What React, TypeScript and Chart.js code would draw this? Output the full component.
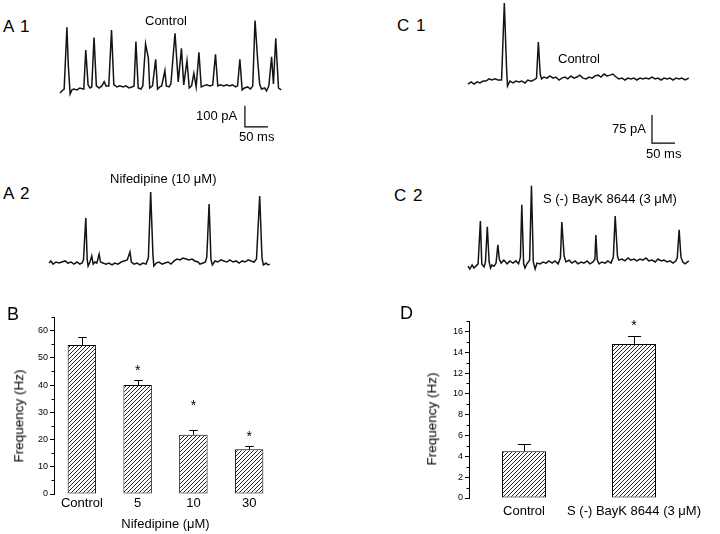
import React, { useEffect, useRef } from 'react';
import { Chart, registerables } from 'chart.js';

Chart.register(...registerables);

const FONT = "'Liberation Sans', Arial, Helvetica, sans-serif";

// ---------------- Data ----------------
// Panel B: frequency under nifedipine
const B_CATEGORIES = ['Control', '5', '10', '30'];
const B_FREQ_HZ = [54.7, 40.0, 21.8, 16.4];
const B_SEM_HZ = [3.0, 1.9, 1.7, 1.4];
const B_STAR_AT = [null, 46.7, 33.9, 22.3];

// Panel D: frequency under S(-) BayK 8644
const D_CATEGORIES = ['Control', 'S (-) BayK 8644 (3 μM)'];
const D_FREQ_HZ = [4.5, 14.8];
const D_SEM_HZ = [0.65, 0.75];
const D_STAR_AT = [null, 16.9];

// Scale bars
const SCALE_A = { ms: 50, pA: 100 };
const SCALE_C = { ms: 50, pA: 75 };

// Current traces: [time (ms), current (pA)]
const A1_TRACE = [
  [0, -29], [4, -19], [9, -10], [15, 284], [18, 105], [22, -33], [26, -14], [30, -10], [37, -14], [43, -5],
  [50, -10], [52, 5], [56, 176], [61, 10], [65, -5], [69, 0], [74, 235], [79, 5], [85, -5], [91, 5],
  [96, 25], [100, 5], [106, 5], [112, 271], [117, 10], [124, 0], [130, 5], [137, 0], [143, 5], [150, -5],
  [156, 0], [161, 5], [165, 216], [170, -5], [176, -10], [180, 5], [186, 205], [192, 137], [195, -5], [201, 5],
  [208, 132], [212, -10], [217, 0], [221, 5], [228, 78], [231, 5], [237, 0], [241, 14], [250, 256], [257, 24],
  [264, 184], [269, 10], [276, 125], [281, -5], [286, 5], [291, 65], [296, 0], [302, 165], [307, 0], [312, 5],
  [319, 10], [326, 5], [332, 10], [338, 156], [343, 5], [349, 10], [356, 5], [362, 10], [369, 5], [375, 10],
  [382, 0], [386, 5], [391, 132], [396, -14], [401, -5], [408, 0], [414, -10], [419, 5], [424, 316], [430, 119],
  [434, 14], [438, -10], [445, -5], [449, -19], [454, 5], [460, 144], [464, 14], [469, 232], [475, -5], [481, -14],
];

const A2_TRACE = [
  [0, -5], [4, 5], [9, -10], [15, 0], [22, -5], [28, 0], [35, 5], [41, -5], [48, 0], [54, -10],
  [61, 0], [67, -10], [72, -5], [75, 10], [80, 210], [83, 14], [85, -19], [89, 0], [93, 29], [96, -10],
  [100, 0], [104, -5], [109, 38], [112, 0], [117, -5], [124, -10], [130, -5], [137, -14], [143, -5], [150, -10],
  [157, 0], [163, 5], [170, 10], [176, 48], [179, 0], [185, -10], [191, -5], [198, -14], [204, -5], [211, -10],
  [216, 20], [221, 333], [226, 30], [228, -19], [233, -5], [239, 0], [246, -10], [252, -5], [259, 0], [265, -10],
  [272, 5], [278, 14], [285, 10], [291, 19], [298, 14], [304, 10], [311, 14], [317, 5], [324, 0], [328, -10],
  [335, -5], [340, 0], [343, 24], [348, 276], [352, 14], [355, -14], [361, 5], [367, 0], [374, 10], [380, 5],
  [387, 0], [393, 10], [400, 0], [407, 5], [413, -5], [420, 5], [426, 0], [433, 10], [439, 5], [446, 0],
  [451, 14], [458, 314], [463, 19], [466, -14], [472, -5], [476, -14], [480, -10],
];

const C1_TRACE = [
  [0, -11], [7, -5], [13, -11], [20, -5], [26, -8], [33, -3], [39, -3], [46, 3], [52, 0], [59, 3],
  [65, 0], [73, 0], [79, 206], [84, 27], [86, -16], [91, -3], [98, -8], [104, -3], [111, -5], [117, -3],
  [124, -8], [130, 0], [137, -3], [143, 0], [149, 5], [153, 102], [157, 16], [160, 3], [165, 8], [172, 5],
  [178, 11], [185, 5], [191, 8], [198, 0], [204, 5], [211, 8], [217, 3], [224, 11], [230, 5], [237, 8],
  [243, 13], [250, 5], [257, 3], [263, 8], [270, 5], [276, 11], [283, 13], [289, 8], [296, 16], [302, 11],
  [309, 13], [315, 16], [322, 8], [328, 3], [335, 5], [341, 0], [348, 5], [354, 3], [361, 5], [367, 0],
  [374, 5], [380, 3], [387, 5], [393, 3], [400, 8], [407, 3], [413, 5], [420, 0], [426, 5], [433, 3],
  [439, 5], [446, 0], [452, 5], [459, 3], [465, 5], [472, 0], [480, 5],
];

const C2_TRACE = [
  [0, -11], [4, -19], [9, -8], [13, -16], [17, -11], [22, -5], [27, 110], [30, -5], [35, -13], [38, 0],
  [42, 94], [46, 0], [49, -16], [52, -8], [57, -11], [61, -3], [65, 46], [68, 8], [72, -3], [78, 5],
  [85, -5], [91, 3], [98, -3], [104, 3], [110, -5], [114, 13], [117, 153], [121, -5], [124, -16], [128, -5],
  [134, 5], [138, 204], [142, 0], [146, -19], [150, -3], [157, -5], [163, 0], [170, -3], [176, 3], [183, -3],
  [189, 3], [196, -5], [201, 11], [204, 107], [209, 16], [213, 0], [220, 5], [226, -3], [233, 3], [239, -5],
  [246, 0], [252, -3], [259, 3], [265, -5], [272, 0], [276, 8], [278, 72], [281, 5], [285, -5], [291, 0],
  [298, -3], [304, 3], [311, -3], [316, 13], [320, 123], [325, 16], [328, 5], [335, 8], [341, 3], [348, 11],
  [354, 5], [361, 8], [367, 3], [374, 8], [380, 5], [387, 11], [393, 3], [400, 5], [407, 0], [413, 8],
  [420, 3], [426, 5], [433, 0], [439, 3], [446, -3], [452, 3], [455, 11], [459, 86], [463, 13], [467, 0],
  [472, -5], [480, 3],
];

// ---------------- Layout (positions / styles) ----------------
const TRACE_PANELS = [
  { key: 'a1', trace: A1_TRACE, box: { x: 55, y: 12, w: 235, h: 135 }, xr: [-10.9, 500], yr: [-286, 357], bar: SCALE_A, barAt: [402, -190] },
  { key: 'a2', trace: A2_TRACE, box: { x: 45, y: 180, w: 240, h: 92 }, xr: [-8.7, 513], yr: [-47.6, 390.5] },
  { key: 'c1', trace: C1_TRACE, box: { x: 462, y: 0, w: 230, h: 165 }, xr: [-13, 487], yr: [-227.7, 214.3], bar: SCALE_C, barAt: [400, -169] },
  { key: 'c2', trace: C2_TRACE, box: { x: 462, y: 178, w: 230, h: 94 }, xr: [-13, 487], yr: [-26.8, 225] },
];

const TEXTS = [
  { t: 'A 1', x: 3, b: 32.3, s: 17, ws: 2 },
  { t: 'A 2', x: 3, b: 199.3, s: 17, ws: 2 },
  { t: 'C 1', x: 397, b: 31.7, s: 17, ws: 2 },
  { t: 'C 2', x: 394, b: 201.7, s: 17, ws: 2 },
  { t: 'B', x: 7, b: 320, s: 18 },
  { t: 'D', x: 400, b: 319.3, s: 18 },
  { t: 'Control', x: 145, b: 25, s: 13 },
  { t: 'Nifedipine (10 μM)', x: 110, b: 182.6, s: 13 },
  { t: '100 pA', x: 196, b: 120.5, s: 13 },
  { t: '50 ms', x: 239, b: 141.5, s: 13 },
  { t: 'Control', x: 558, b: 63.5, s: 13 },
  { t: '75 pA', x: 612, b: 133, s: 13 },
  { t: '50 ms', x: 646, b: 158.5, s: 13 },
  { t: 'S (-) BayK 8644 (3 μM)', x: 543, b: 203.5, s: 13 },
];

const Y_TITLES = [
  { t: 'Frequency (Hz)', cx: 19, cy: 416 },
  { t: 'Frequency (Hz)', cx: 431.5, cy: 418.5 },
];

// ---------------- Plugins ----------------
const minorTickPlugin = {
  id: 'minorTicks',
  afterDraw(chart: any, _a: any, opts: any) {
    const step = opts && opts.step;
    if (!step) return;
    const ys = chart.scales.y;
    const ctx = chart.ctx;
    const x0 = chart.chartArea.left;
    ctx.save();
    ctx.strokeStyle = '#000';
    ctx.lineWidth = 1;
    ctx.beginPath();
    for (let v = ys.min + step; v <= ys.max + 1e-9; v += 2 * step) {
      const py = Math.round(ys.getPixelForValue(v)) + 0.5;
      ctx.moveTo(x0 - 2.5, py);
      ctx.lineTo(x0, py);
    }
    ctx.stroke();
    ctx.restore();
  },
};

const errStarPlugin = {
  id: 'errStars',
  afterDatasetsDraw(chart: any, _a: any, opts: any) {
    const meta = chart.getDatasetMeta(0);
    const ys = chart.scales.y;
    const ctx = chart.ctx;
    const values = chart.data.datasets[0].data;
    ctx.save();
    ctx.strokeStyle = '#000';
    ctx.fillStyle = '#000';
    ctx.lineWidth = 1;
    meta.data.forEach((bar: any, i: number) => {
      const err = opts.errors[i];
      const top = Math.round(ys.getPixelForValue(values[i] + err)) + 0.5;
      const x = Math.round(bar.x) + 0.5;
      const cap = (bar.width * 0.3) / 2;
      ctx.beginPath();
      ctx.moveTo(x, bar.y);
      ctx.lineTo(x, top);
      ctx.moveTo(x - cap, top);
      ctx.lineTo(x + cap, top);
      ctx.stroke();
      const s = opts.stars[i];
      if (s != null) {
        ctx.font = `14px ${FONT}`;
        ctx.textAlign = 'center';
        ctx.textBaseline = 'alphabetic';
        ctx.fillText('*', bar.x, ys.getPixelForValue(s) + 8);
      }
    });
    ctx.restore();
  },
};

function makeHatch(ctx: CanvasRenderingContext2D) {
  const c = document.createElement('canvas');
  c.width = 4;
  c.height = 4;
  const g = c.getContext('2d')!;
  g.fillStyle = '#fff';
  g.fillRect(0, 0, 4, 4);
  g.strokeStyle = '#262626';
  g.lineWidth = 1;
  g.beginPath();
  g.moveTo(0, 4);
  g.lineTo(4, 0);
  g.moveTo(-1, 1);
  g.lineTo(1, -1);
  g.moveTo(3, 5);
  g.lineTo(5, 3);
  g.stroke();
  return ctx.createPattern(c, 'repeat')!;
}

// ---------------- Components ----------------
function TraceChart({ panel }: any) {
  const ref = useRef<HTMLCanvasElement>(null);
  useEffect(() => {
    const datasets: any[] = [
      {
        data: panel.trace.map(([x, y]: number[]) => ({ x, y })),
        borderColor: '#141414',
        borderWidth: 1.5,
        pointRadius: 0,
        tension: 0,
        fill: false,
      },
    ];
    if (panel.bar) {
      const [t, i] = panel.barAt;
      datasets.push({
        data: [
          { x: t, y: i + panel.bar.pA },
          { x: t, y: i },
          { x: t + panel.bar.ms, y: i },
        ],
        borderColor: '#000',
        borderWidth: 1.2,
        pointRadius: 0,
        tension: 0,
        fill: false,
      });
    }
    const chart = new Chart(ref.current!, {
      type: 'line',
      data: { datasets },
      options: {
        animation: false,
        responsive: false,
        events: [],
        layout: { padding: 0 },
        plugins: { legend: { display: false }, tooltip: { enabled: false } },
        scales: {
          x: { type: 'linear', display: false, min: panel.xr[0], max: panel.xr[1] },
          y: { type: 'linear', display: false, min: panel.yr[0], max: panel.yr[1] },
        },
      },
    } as any);
    return () => chart.destroy();
  }, []);
  const b = panel.box;
  return (
    <canvas
      ref={ref}
      width={b.w}
      height={b.h}
      style={{ position: 'absolute', left: b.x, top: b.y, width: b.w, height: b.h }}
    />
  );
}

function BarPanel(props: any) {
  const ref = useRef<HTMLCanvasElement>(null);
  useEffect(() => {
    const canvas = ref.current!;
    const hatch = makeHatch(canvas.getContext('2d')!);
    const chart = new Chart(canvas, {
      type: 'bar',
      data: {
        labels: props.labels,
        datasets: [
          {
            data: props.values,
            backgroundColor: hatch,
            borderColor: '#000',
            borderWidth: 1,
            borderSkipped: false,
            barPercentage: props.barPct,
            categoryPercentage: 1,
          },
        ],
      },
      options: {
        animation: false,
        responsive: false,
        events: [],
        layout: { padding: props.padding },
        plugins: {
          legend: { display: false },
          tooltip: { enabled: false },
          errStars: { errors: props.errors, stars: props.stars },
          minorTicks: { step: props.yMinor },
        },
        scales: {
          x: {
            grid: { display: false, drawTicks: false },
            border: { display: false },
            ticks: {
              color: '#000',
              font: { family: FONT, size: 13 },
              padding: props.xLabelPad,
              maxRotation: 0,
              autoSkip: false,
            },
            title: props.xTitle
              ? {
                  display: true,
                  text: props.xTitle,
                  color: '#000',
                  font: { family: FONT, size: 13 },
                  padding: { top: 0, bottom: 2 },
                }
              : { display: false },
            afterFit: (s: any) => {
              s.height = props.xAxisHeight;
            },
          },
          y: {
            min: 0,
            max: props.yMax,
            grid: { drawOnChartArea: false, drawTicks: true, tickLength: 4, color: '#000' },
            border: { display: true, color: '#000', width: 1 },
            ticks: {
              stepSize: props.yStep,
              includeBounds: false,
              color: '#000',
              font: { family: FONT, size: 9 },
              padding: 2,
            },
            afterFit: (s: any) => {
              s.width = props.yAxisWidth;
            },
          },
        },
      },
      plugins: [errStarPlugin, minorTickPlugin],
    } as any);
    return () => chart.destroy();
  }, []);
  const b = props.box;
  return (
    <canvas
      ref={ref}
      width={b.w}
      height={b.h}
      style={{ position: 'absolute', left: b.x, top: b.y, width: b.w, height: b.h }}
    />
  );
}

export default function App() {
  return (
    <div
      style={{
        position: 'absolute',
        left: 0,
        top: 0,
        width: 720,
        height: 534,
        background: '#fff',
        overflow: 'hidden',
        fontFamily: FONT,
        color: '#000',
      }}
    >
      {TRACE_PANELS.map((p) => (
        <TraceChart key={p.key} panel={p} />
      ))}
      <BarPanel
        box={{ x: 0, y: 300, w: 300, h: 234 }}
        padding={{ left: 0, top: 17, right: 23, bottom: 0 }}
        yAxisWidth={54}
        xAxisHeight={40}
        labels={B_CATEGORIES}
        values={B_FREQ_HZ}
        errors={B_SEM_HZ}
        stars={B_STAR_AT}
        yMax={65}
        yStep={10}
        yMinor={5}
        barPct={0.51}
        xLabelPad={2}
        xTitle="Nifedipine (μM)"
      />
      <BarPanel
        box={{ x: 360, y: 300, w: 360, h: 234 }}
        padding={{ left: 0, top: 21, right: 31, bottom: 0 }}
        yAxisWidth={109}
        xAxisHeight={36}
        labels={D_CATEGORIES}
        values={D_FREQ_HZ}
        errors={D_SEM_HZ}
        stars={D_STAR_AT}
        yMax={17}
        yStep={2}
        yMinor={1}
        barPct={0.4}
        xLabelPad={6}
      />
      {TEXTS.map((d, i) => (
        <div
          key={i}
          style={{
            position: 'absolute',
            left: d.x,
            top: d.b - 0.8465 * d.s,
            fontSize: d.s,
            lineHeight: 1,
            whiteSpace: 'nowrap',
            wordSpacing: d.ws ? d.ws : 0,
          }}
        >
          {d.t}
        </div>
      ))}
      {Y_TITLES.map((d, i) => (
        <div
          key={'yt' + i}
          style={{
            position: 'absolute',
            left: d.cx,
            top: d.cy,
            fontSize: 13.5,
            lineHeight: 1,
            whiteSpace: 'nowrap',
            transform: 'translate(-50%, -50%) rotate(-90deg)',
          }}
        >
          {d.t}
        </div>
      ))}
    </div>
  );
}
